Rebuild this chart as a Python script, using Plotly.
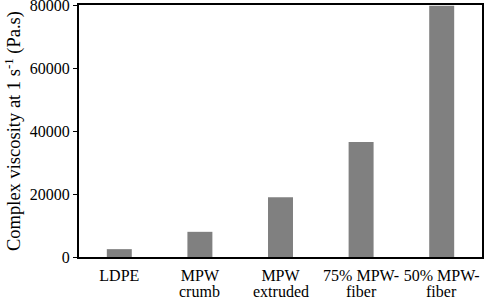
import plotly.graph_objects as go

categories = ["LDPE", "MPW crumb", "MPW extruded", "75% MPW-fiber", "50% MPW-fiber"]
label_top = ["LDPE", "MPW", "MPW", "75% MPW-", "50% MPW-"]
label_bottom = ["", "crumb", "extruded", "fiber", "fiber"]
viscosity = [2500, 8000, 19000, 36500, 79800]
y_ticks = [0, 20000, 40000, 60000, 80000]

fig = go.Figure()
fig.add_trace(go.Bar(x=categories, y=viscosity, marker=dict(color="#808080", line=dict(width=0))))

for cat, txt in zip(categories, label_bottom):
    if txt:
        fig.add_annotation(x=cat, xref="x", y=0, yref="paper", yanchor="top",
                           yshift=-25, text=txt, showarrow=False,
                           font=dict(family="Liberation Serif", size=16, color="black"),
                           borderpad=0)

fig.update_layout(
    width=484, height=301,
    margin=dict(l=79, r=2, t=5, b=44),
    paper_bgcolor="white", plot_bgcolor="white",
    font=dict(family="Liberation Serif", size=16, color="black"),
    bargap=0.69,
    showlegend=False,
)
fig.update_xaxes(
    tickvals=categories, ticktext=label_top,
    showline=True, linecolor="black", linewidth=2, mirror=True,
    ticks="", showgrid=False, tickfont=dict(size=16), automargin=False,
    ticklabelstandoff=3,
)
fig.update_yaxes(
    range=[0, 80050], tickvals=y_ticks, ticktext=[str(v) for v in y_ticks],
    showline=True, linecolor="black", linewidth=2, mirror=True,
    ticks="outside", ticklen=4, tickcolor="black", showgrid=False, zeroline=False,
    tickfont=dict(size=16), automargin=False, ticklabeloverflow="allow",
    title=dict(text="Complex viscosity at 1 s<sup>-1</sup> (Pa.s)", font=dict(size=18.5), standoff=4),
)
fig.write_html("out.html", post_script="document.body.style.margin='0';",
               config={"displayModeBar": False})
